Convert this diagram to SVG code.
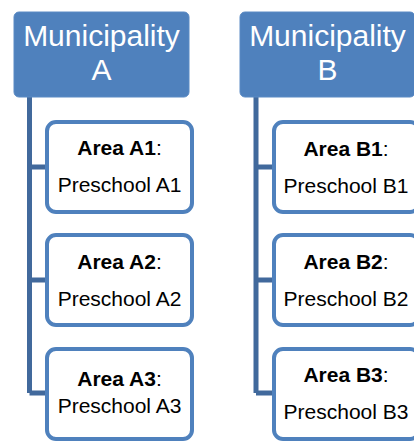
<svg xmlns="http://www.w3.org/2000/svg" width="414" height="442" viewBox="0 0 414 442">
<style>
.muni{fill:#4f81bd;stroke:#5a8ac4;stroke-width:1}
.area{fill:#ffffff;stroke:#4f81bd;stroke-width:4}
.mt{font-family:"Liberation Sans",Arial,sans-serif;font-size:30px;fill:#ffffff;text-anchor:middle}
.at{font-family:"Liberation Sans",Arial,sans-serif;font-size:21px;fill:#000000;text-anchor:middle}
.b{font-weight:bold}
.con{fill:none;stroke:#41699c;stroke-width:5}
</style>
<g id="connectors">
<path class="con" d="M29.5 97 V393 M29.5 167 H47 M29.5 280 H47 M29.5 393 H47"/>
<path class="con" d="M256 97 V393 M256 167 H274 M256 280 H274 M256 393 H274"/>
</g>
<g id="muniA">
<rect class="muni" x="14" y="12" width="175" height="85" rx="5"/>
<text class="mt" x="101.5" y="46">Municipality</text>
<text class="mt" x="101.5" y="80">A</text>
</g>
<g id="muniB">
<rect class="muni" x="240" y="12" width="175" height="85" rx="5"/>
<text class="mt" x="327.5" y="46">Municipality</text>
<text class="mt" x="327.5" y="80">B</text>
</g>
<g id="areaA1">
<rect class="area" x="47" y="122" width="145" height="90" rx="9"/>
<text class="at" x="119.5" y="155"><tspan class="b">Area A1</tspan>:</text>
<text class="at" x="119.5" y="192">Preschool A1</text>
</g>
<g id="areaA2">
<rect class="area" x="47" y="235" width="145" height="90" rx="9"/>
<text class="at" x="119.5" y="269"><tspan class="b">Area A2</tspan>:</text>
<text class="at" x="119.5" y="306">Preschool A2</text>
</g>
<g id="areaA3">
<rect class="area" x="47" y="349" width="145" height="90" rx="9"/>
<text class="at" x="119.5" y="386"><tspan class="b">Area A3</tspan>:</text>
<text class="at" x="119.5" y="413">Preschool A3</text>
</g>
<g id="areaB1">
<rect class="area" x="274" y="122" width="145" height="90" rx="9"/>
<text class="at" x="346" y="156"><tspan class="b">Area B1</tspan>:</text>
<text class="at" x="346" y="193">Preschool B1</text>
</g>
<g id="areaB2">
<rect class="area" x="274" y="235" width="145" height="90" rx="9"/>
<text class="at" x="346" y="269"><tspan class="b">Area B2</tspan>:</text>
<text class="at" x="346" y="306">Preschool B2</text>
</g>
<g id="areaB3">
<rect class="area" x="274" y="349" width="145" height="90" rx="9"/>
<text class="at" x="346" y="382"><tspan class="b">Area B3</tspan>:</text>
<text class="at" x="346" y="419">Preschool B3</text>
</g>
</svg>
